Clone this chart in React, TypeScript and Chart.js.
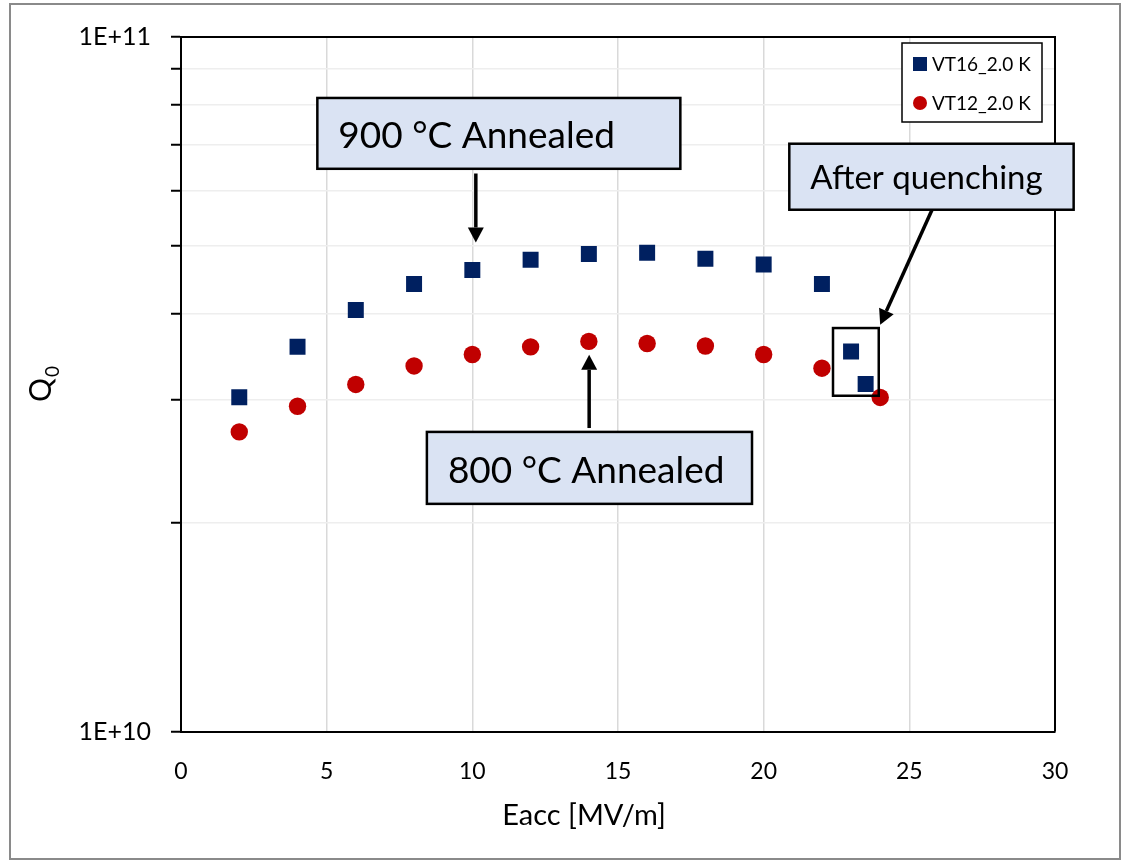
import React, { useEffect, useRef } from "react";
import { Chart, registerables } from "chart.js";

Chart.register(...registerables);

// ---- Data ----
const seriesNames = ["VT16_2.0 K", "VT12_2.0 K"];
const eaccVT16 = [2, 4, 6, 8, 10, 12, 14, 16, 18, 20, 22, 23, 23.5];
const q0VT16 = [3.03e10, 3.58e10, 4.045e10, 4.41e10, 4.62e10, 4.78e10, 4.87e10, 4.89e10, 4.795e10, 4.705e10, 4.41e10, 3.526e10, 3.165e10];
const eaccVT12 = [2, 4, 6, 8, 10, 12, 14, 16, 18, 20, 22, 24];
const q0VT12 = [2.7e10, 2.94e10, 3.16e10, 3.36e10, 3.49e10, 3.58e10, 3.645e10, 3.62e10, 3.59e10, 3.49e10, 3.335e10, 3.027e10];
const xMin = 0;
const xMax = 30;
const xStep = 5;
const yMin = 1e10;
const yMax = 1e11;
const yTickValues = [1e10, 2e10, 3e10, 4e10, 5e10, 6e10, 7e10, 8e10, 9e10, 1e11];
const yTickLabels = ["1E+10", "", "", "", "", "", "", "", "", "1E+11"];
const xTitle = "Eacc [MV/m]";

// Annotations (anchored in data coordinates)
const calloutTexts = ["900 °C Annealed", "800 °C Annealed", "After quenching"];
const calloutX0 = [4.68, 8.44, 20.88];
const calloutX1 = [17.14, 19.6, 30.64];
const calloutYTop = [8.17e10, 2.7e10, 7.02e10];
const calloutYBottom = [6.46e10, 2.127e10, 5.64e10];
const calloutFont = [37, 37, 33];
const arrowFrom = [[10.12, 6.36e10], [14.01, 2.735e10], [25.78, 5.64e10]];
const arrowTo = [[10.12, 5.06e10], [14.01, 3.487e10], [24.0, 3.853e10]];
const quenchBox = [22.38, 23.95, 3.81e10, 3.044e10];

const FONT = "Lato, 'Open Sans', 'DejaVu Sans', sans-serif";
const NAVY = "#002060";
const RED = "#C00000";
const CALLOUT_FILL = "#DAE3F3";

function drawArrow(ctx: CanvasRenderingContext2D, x0: number, y0: number, x1: number, y1: number) {
  const ang = Math.atan2(y1 - y0, x1 - x0);
  const headLen = 15;
  const headHalf = 8;
  const bx = x1 - headLen * Math.cos(ang);
  const by = y1 - headLen * Math.sin(ang);
  ctx.save();
  ctx.strokeStyle = "#000";
  ctx.fillStyle = "#000";
  ctx.lineWidth = 3.5;
  ctx.beginPath();
  ctx.moveTo(x0, y0);
  ctx.lineTo(bx, by);
  ctx.stroke();
  ctx.beginPath();
  ctx.moveTo(x1, y1);
  ctx.lineTo(bx + headHalf * Math.sin(ang), by - headHalf * Math.cos(ang));
  ctx.lineTo(bx - headHalf * Math.sin(ang), by + headHalf * Math.cos(ang));
  ctx.closePath();
  ctx.fill();
  ctx.restore();
}

const decorPlugin = {
  id: "decor",
  beforeDraw(chart: any) {
    const ctx = chart.ctx as CanvasRenderingContext2D;
    ctx.save();
    ctx.fillStyle = "#fff";
    ctx.fillRect(0, 0, chart.width, chart.height);
    ctx.restore();
  },
  beforeDatasetsDraw(chart: any) {
    const ctx = chart.ctx as CanvasRenderingContext2D;
    const a = chart.chartArea;
    ctx.save();
    ctx.strokeStyle = "#000";
    ctx.lineWidth = 2;
    ctx.beginPath();
    ctx.moveTo(a.left, a.top);
    ctx.lineTo(a.right, a.top);
    ctx.lineTo(a.right, a.bottom);
    ctx.stroke();
    ctx.restore();
  },
  afterDatasetsDraw(chart: any) {
    const ctx = chart.ctx as CanvasRenderingContext2D;
    const xs = chart.scales.x;
    const ys = chart.scales.y;
    const a = chart.chartArea;

    // quench region rectangle
    ctx.save();
    ctx.strokeStyle = "#000";
    ctx.lineWidth = 2.5;
    const qx0 = xs.getPixelForValue(quenchBox[0]);
    const qx1 = xs.getPixelForValue(quenchBox[1]);
    const qy0 = ys.getPixelForValue(quenchBox[2]);
    const qy1 = ys.getPixelForValue(quenchBox[3]);
    ctx.strokeRect(qx0, qy0, qx1 - qx0, qy1 - qy0);
    ctx.restore();

    // arrows
    for (let i = 0; i < arrowFrom.length; i++) {
      drawArrow(
        ctx,
        xs.getPixelForValue(arrowFrom[i][0]),
        ys.getPixelForValue(arrowFrom[i][1]),
        xs.getPixelForValue(arrowTo[i][0]),
        ys.getPixelForValue(arrowTo[i][1])
      );
    }

    // callout boxes
    for (let i = 0; i < calloutTexts.length; i++) {
      const l = xs.getPixelForValue(calloutX0[i]);
      const r = xs.getPixelForValue(calloutX1[i]);
      const t = ys.getPixelForValue(calloutYTop[i]);
      const b = ys.getPixelForValue(calloutYBottom[i]);
      ctx.save();
      ctx.fillStyle = CALLOUT_FILL;
      ctx.fillRect(l, t, r - l, b - t);
      ctx.strokeStyle = "#000";
      ctx.lineWidth = 2.5;
      ctx.strokeRect(l, t, r - l, b - t);
      ctx.fillStyle = "#000";
      ctx.font = `${calloutFont[i]}px ${FONT}`;
      ctx.textAlign = "left";
      ctx.textBaseline = "alphabetic";
      ctx.fillText(calloutTexts[i], l + 21, b - 21);
      ctx.restore();
    }

    // legend
    const lx = a.right - 153;
    const ly = a.top + 6;
    const lw = 140;
    const lh = 79;
    ctx.save();
    ctx.fillStyle = "#fff";
    ctx.fillRect(lx, ly, lw, lh);
    ctx.strokeStyle = "#000";
    ctx.lineWidth = 1.5;
    ctx.strokeRect(lx, ly, lw, lh);
    ctx.font = `19px ${FONT}`;
    ctx.textAlign = "left";
    ctx.textBaseline = "middle";
    chart.data.datasets.forEach((ds: any, i: number) => {
      const cy = ly + 21 + i * 39;
      const cx = lx + 18;
      ctx.fillStyle = ds.backgroundColor;
      if (ds.pointStyle === "rect") {
        ctx.fillRect(cx - 7, cy - 7, 14, 14);
      } else {
        ctx.beginPath();
        ctx.arc(cx, cy, 7, 0, Math.PI * 2);
        ctx.fill();
      }
      ctx.fillStyle = "#000";
      ctx.fillText(ds.label, lx + 30, cy + 1);
    });
    ctx.restore();
  },
  afterDraw(chart: any) {
    const ctx = chart.ctx as CanvasRenderingContext2D;
    const a = chart.chartArea;
    ctx.save();
    // x title
    ctx.fillStyle = "#000";
    ctx.font = `29px ${FONT}`;
    ctx.textAlign = "center";
    ctx.textBaseline = "middle";
    ctx.fillText(xTitle, 584, a.bottom + 84);
    // y title Q0
    ctx.translate(51, 402);
    ctx.rotate(-Math.PI / 2);
    ctx.textAlign = "left";
    ctx.textBaseline = "alphabetic";
    ctx.font = `30px ${FONT}`;
    ctx.fillText("Q", 0, 0);
    const qw = ctx.measureText("Q").width;
    ctx.font = `19px ${FONT}`;
    ctx.fillText("0", qw + 1, 8);
    ctx.restore();
    // outer border
    ctx.save();
    ctx.strokeStyle = "#8a8a8a";
    ctx.lineWidth = 2;
    ctx.strokeRect(10, 4, 1110, 855);
    ctx.restore();
  },
};

export default function App() {
  const ref = useRef<HTMLCanvasElement | null>(null);
  useEffect(() => {
    if (!ref.current) return;
    const chart = new Chart(ref.current, {
      type: "scatter",
      data: {
        datasets: [
          {
            label: seriesNames[0],
            data: eaccVT16.map((x, i) => ({ x, y: q0VT16[i] })),
            pointStyle: "rect",
            pointRadius: 11.3,
            backgroundColor: NAVY,
            borderColor: NAVY,
            borderWidth: 0,
            showLine: false,
          },
          {
            label: seriesNames[1],
            data: eaccVT12.map((x, i) => ({ x, y: q0VT12[i] })),
            pointStyle: "circle",
            pointRadius: 8.7,
            backgroundColor: RED,
            borderColor: RED,
            borderWidth: 0,
            showLine: false,
          },
        ],
      },
      options: {
        responsive: false,
        animation: false,
        events: [],
        layout: { padding: { left: 0, top: 37, right: 72, bottom: 0 } },
        plugins: {
          legend: { display: false },
          tooltip: { enabled: false },
        },
        scales: {
          x: {
            type: "linear",
            min: xMin,
            max: xMax,
            afterFit: (s: any) => {
              s.height = 132.5;
            },
            ticks: {
              stepSize: xStep,
              font: { family: FONT, size: 23 },
              color: "#000",
              padding: 26,
            },
            grid: { color: "#D9D9D9", lineWidth: 1.5, drawTicks: false },
            border: { color: "#000", width: 2 },
          },
          y: {
            type: "logarithmic",
            min: yMin,
            max: yMax,
            afterFit: (s: any) => {
              s.width = 181;
            },
            afterBuildTicks: (s: any) => {
              s.ticks = yTickValues.map((v) => ({ value: v }));
            },
            ticks: {
              autoSkip: false,
              font: { family: FONT, size: 25 },
              color: "#000",
              padding: 20,
              callback: (v: any) => {
                const n = Number(v);
                const idx = yTickValues.findIndex((t) => Math.abs(t - n) / t < 1e-9);
                return idx >= 0 ? yTickLabels[idx] : "";
              },
            },
            grid: {
              color: "#EEEEEE",
              lineWidth: 1.5,
              drawTicks: true,
              tickLength: 10,
              tickColor: "#000",
              tickWidth: 2,
            },
            border: { color: "#000", width: 2 },
          },
        },
      } as any,
      plugins: [decorPlugin],
    });
    return () => chart.destroy();
  }, []);
  return (
    <div style={{ position: "absolute", left: 0, top: 0, width: 1127, height: 864 }}>
      <canvas ref={ref} width={1127} height={864} />
    </div>
  );
}
